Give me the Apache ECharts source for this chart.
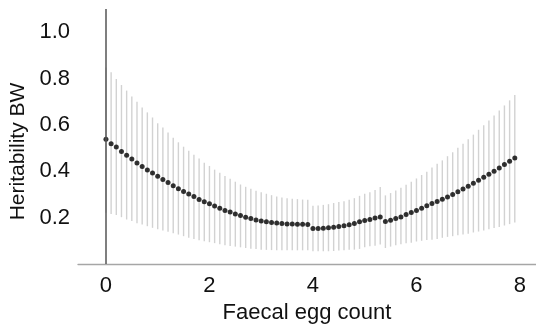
<!DOCTYPE html>
<html>
<head>
<meta charset="utf-8">
<script src="https://cdn.jsdelivr.net/npm/echarts@6/dist/echarts.min.js"></script>
<style>html,body{margin:0;padding:0;background:#fff}#c{width:536px;height:326px}</style>
</head>
<body>
<div id="c"></div>
<script>
const eggCount = [0.0,0.1,0.2,0.3,0.4,0.5,0.6,0.7,0.8,0.9,1.0,1.1,1.2,1.3,1.4,1.5,1.6,1.7,1.8,1.9,2.0,2.1,2.2,2.3,2.4,2.5,2.6,2.7,2.8,2.9,3.0,3.1,3.2,3.3,3.4,3.5,3.6,3.7,3.8,3.9,4.0,4.1,4.2,4.3,4.4,4.5,4.6,4.7,4.8,4.9,5.0,5.1,5.2,5.3,5.4,5.5,5.6,5.7,5.8,5.9,6.0,6.1,6.2,6.3,6.4,6.5,6.6,6.7,6.8,6.9,7.0,7.1,7.2,7.3,7.4,7.5,7.6,7.7,7.8,7.9];
const heritability = [0.538,0.519,0.505,0.485,0.469,0.453,0.436,0.421,0.406,0.393,0.378,0.365,0.352,0.338,0.325,0.313,0.302,0.291,0.278,0.268,0.260,0.250,0.241,0.231,0.224,0.216,0.209,0.202,0.196,0.190,0.186,0.182,0.179,0.177,0.175,0.173,0.173,0.172,0.172,0.170,0.153,0.153,0.154,0.156,0.159,0.162,0.165,0.169,0.175,0.182,0.188,0.192,0.198,0.203,0.183,0.189,0.196,0.203,0.214,0.222,0.231,0.241,0.251,0.261,0.270,0.279,0.289,0.300,0.312,0.323,0.335,0.348,0.361,0.374,0.387,0.400,0.414,0.429,0.443,0.457];
const upper = [0.848,0.827,0.798,0.772,0.748,0.723,0.700,0.675,0.654,0.632,0.607,0.589,0.567,0.545,0.525,0.506,0.488,0.471,0.455,0.437,0.423,0.407,0.394,0.380,0.368,0.355,0.343,0.333,0.325,0.316,0.309,0.303,0.297,0.291,0.287,0.284,0.281,0.280,0.278,0.277,0.251,0.252,0.255,0.258,0.263,0.267,0.271,0.277,0.284,0.294,0.303,0.309,0.319,0.332,0.296,0.306,0.317,0.329,0.342,0.355,0.369,0.384,0.398,0.416,0.432,0.447,0.465,0.482,0.502,0.519,0.538,0.558,0.579,0.599,0.619,0.641,0.662,0.684,0.706,0.729];
const lower = [0.221,0.216,0.211,0.202,0.192,0.185,0.176,0.170,0.163,0.156,0.150,0.144,0.139,0.133,0.127,0.120,0.113,0.108,0.102,0.098,0.094,0.090,0.085,0.081,0.078,0.075,0.072,0.069,0.066,0.065,0.062,0.061,0.060,0.059,0.059,0.059,0.059,0.059,0.059,0.059,0.055,0.055,0.055,0.055,0.056,0.058,0.059,0.061,0.062,0.065,0.072,0.077,0.079,0.084,0.069,0.075,0.081,0.085,0.090,0.092,0.097,0.100,0.103,0.105,0.108,0.113,0.117,0.120,0.124,0.127,0.131,0.136,0.140,0.144,0.150,0.155,0.160,0.166,0.172,0.179];
const xTicks = [0,2,4,6,8];
const yTicks = [0.2,0.4,0.6,0.8,1.0];

const font = 'Liberation Sans, Arial, sans-serif';
const chart = echarts.init(document.getElementById('c'), null, {renderer:'canvas'});
chart.setOption({
  animation:false,
  backgroundColor:'#fff',
  grid:{left:78, right:0, top:9, bottom:62, outerBoundsMode:'none', containLabel:false},
  xAxis:{
    type:'value', min:-0.54, max:8.31,
    name:'Faecal egg count', nameLocation:'middle', nameGap:33,
    nameTextStyle:{fontFamily:font, fontSize:22, color:'#111'},
    axisLine:{show:true, onZero:false, lineStyle:{color:'#a6a6a6', width:1.3}},
    axisTick:{show:false},
    splitLine:{show:false},
    axisLabel:{customValues:xTicks, fontFamily:font, fontSize:22, color:'#111', margin:11}
  },
  yAxis:{
    type:'value', min:0, max:1.1,
    name:'Heritability BW', nameLocation:'middle', nameGap:48,
    nameTextStyle:{fontFamily:font, fontSize:21, color:'#111', padding:[0,30,0,0]},
    axisLine:{show:false},
    axisTick:{show:false},
    splitLine:{show:false},
    axisLabel:{customValues:yTicks, fontFamily:font, fontSize:22, color:'#111', margin:8,
      formatter:v=>v.toFixed(1)}
  },
  series:[
    {
      type:'line', data:[], z:1, silent:true,
      markLine:{silent:true, symbol:'none', label:{show:false},
        lineStyle:{color:'#555', width:1.5, type:'solid'},
        data:[{xAxis:0}]}
    },
    {
      type:'custom', z:2, silent:true,
      data: eggCount.map((x,i)=>[x, lower[i], upper[i]]),
      renderItem:function(params, api){
        const p1 = api.coord([api.value(0), api.value(1)]);
        const p2 = api.coord([api.value(0), api.value(2)]);
        return {type:'line', shape:{x1:p1[0], y1:p1[1], x2:p2[0], y2:p2[1]},
          style:{stroke:'#d2d2d2', lineWidth:1.4}};
      }
    },
    {
      type:'scatter', z:3, symbol:'circle', symbolSize:5,
      itemStyle:{color:'#000'},
      data: eggCount.map((x,i)=>[x, heritability[i]])
    }
  ]
});
</script>
</body>
</html>
